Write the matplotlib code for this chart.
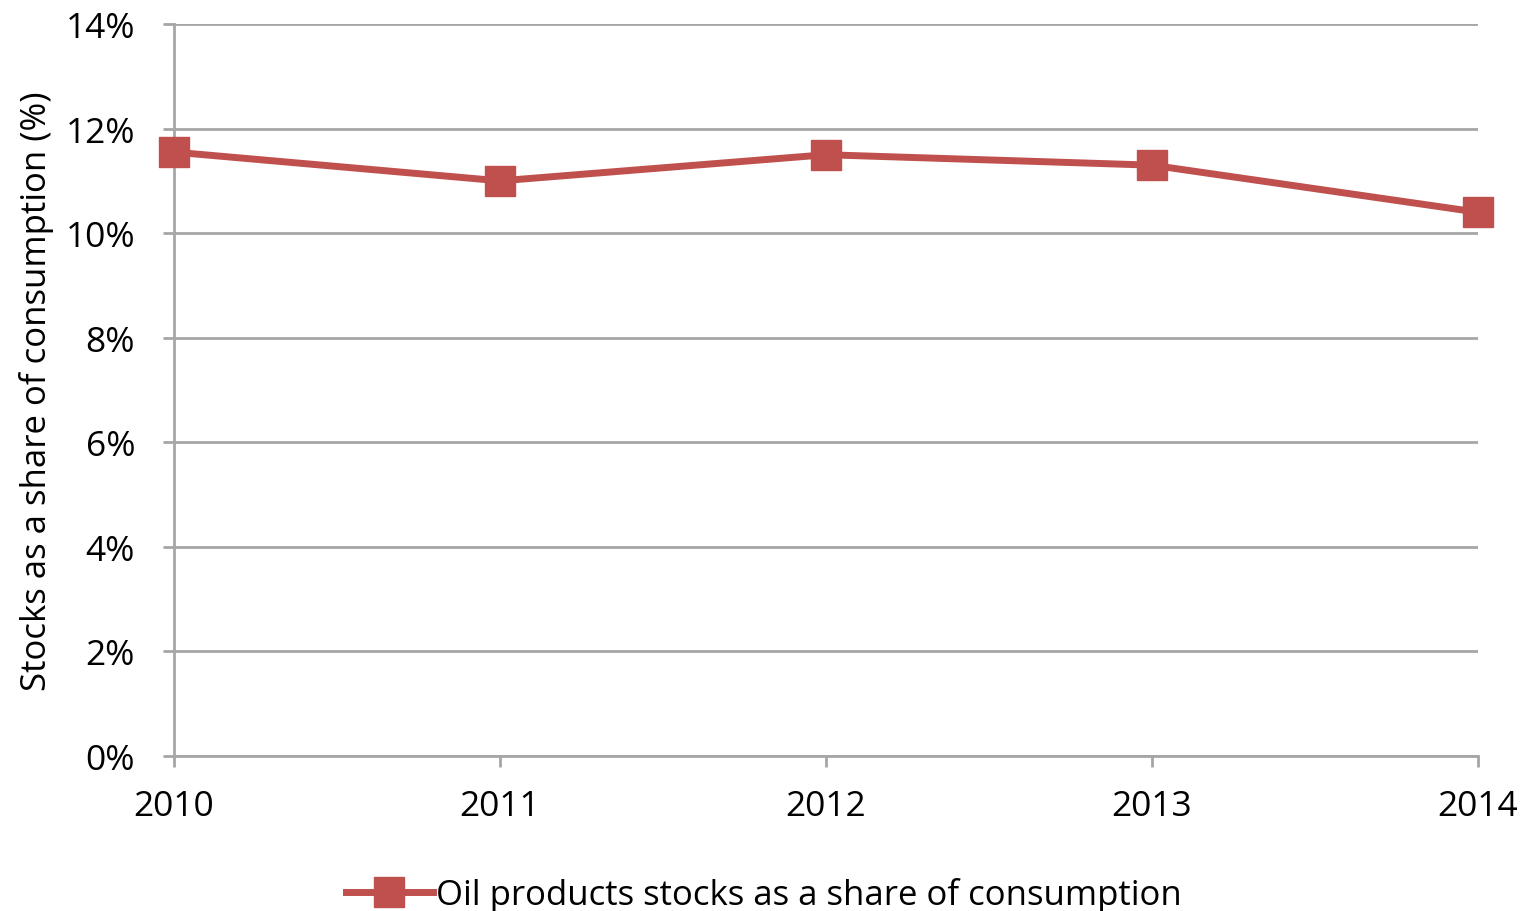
import matplotlib
matplotlib.use("Agg")
import matplotlib.pyplot as plt
from matplotlib.ticker import FuncFormatter

plt.rcParams['font.family'] = ['Open Sans', 'DejaVu Sans']

years = ["2010", "2011", "2012", "2013", "2014"]
share = [11.55, 11.0, 11.5, 11.3, 10.4]
series_name = "Oil products stocks as a share of consumption"
yticks = [0, 2, 4, 6, 8, 10, 12, 14]

fig = plt.figure(figsize=(15.28, 9.12), dpi=100)
ax = fig.add_axes([174/1528, 1-757/912, (1478-174)/1528, (757-25)/912])

x = list(range(len(years)))
ax.plot(x, share, color='#C0504D', lw=5, marker='s', markersize=22,
        markerfacecolor='#C0504D', markeredgecolor='#C0504D', label=series_name,
        clip_on=False, zorder=3)

ax.set_xlim(0, len(years) - 1)
ax.set_ylim(0, 14)
ax.set_yticks(yticks)
ax.yaxis.set_major_formatter(FuncFormatter(lambda v, p: f"{v:.0f}%"))
ax.set_xticks(x)
ax.set_xticklabels(years)
ax.grid(axis='y', color='#A6A6A6', lw=2)
ax.set_axisbelow(True)
for s in ['top', 'right']:
    ax.spines[s].set_visible(False)
for s in ['left', 'bottom']:
    ax.spines[s].set_color('#A6A6A6')
    ax.spines[s].set_linewidth(2)
ax.tick_params(axis='both', labelsize=25.5, color='#A6A6A6', width=2, length=8)
ax.tick_params(axis='x', pad=16)
ax.tick_params(axis='y', pad=20)
ax.set_ylabel("Stocks as a share of consumption (%)", fontsize=25, labelpad=8)

fig.legend(loc='lower center', bbox_to_anchor=(0.5, -0.035), frameon=False,
           fontsize=25, handlelength=2.5, handletextpad=0.1)

fig.savefig("out.png", dpi=100)
